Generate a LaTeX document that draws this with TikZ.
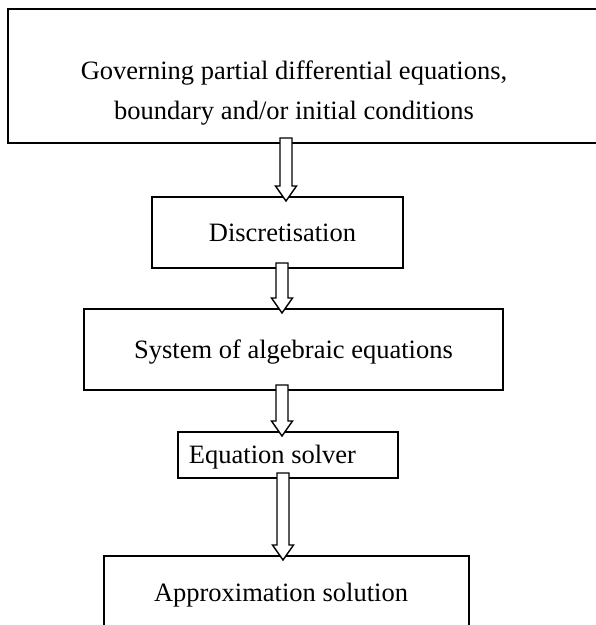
\documentclass[tikz,border=0pt]{standalone}
\usepackage{fontspec}
\setmainfont{Liberation Serif}
\usetikzlibrary{calc}
\tikzset{
  box/.style={draw=black, line width=2pt, inner sep=0pt, outer sep=0pt,
    font=\fontsize{26.5}{39}\selectfont, text height=17.5pt, text depth=0pt},
  boxtext/.style={inner sep=0pt, align=center, font=\fontsize{26.5}{39.5}\selectfont},
  barrow/.style={draw=black, fill=white, line width=1.4pt, line join=miter},
}
\newcommand\blockarrow[3]{%
  \draw[barrow] let \p1=(#1.south), \p2=(#2.north) in
   (#3pt-6pt,\y1+5pt) -- (#3pt+6pt,\y1+5pt) -- (#3pt+6pt,\y2+11pt)
   -- (#3pt+10.5pt,\y2+11pt) -- (#3pt,\y2-4pt) -- (#3pt-10.5pt,\y2+11pt)
   -- (#3pt-6pt,\y2+11pt) -- cycle;}
\begin{document}
\begin{tikzpicture}[x=1pt,y=1pt]
\useasboundingbox (0,0) rectangle (596,-625);
\node[box, minimum width=592pt, minimum height=134pt] (b1) at (304,-76) {};
\node[boxtext] (t1) at (294,-93) {Governing partial differential equations,\\boundary and/or initial conditions};
\node[box, minimum width=251pt, minimum height=71pt] (b2) at (277.5,-232.5) {\hspace*{10pt}Discretisation};
\node[box, minimum width=419pt, minimum height=81pt] (b3) at (293.5,-349.5) {System of algebraic equations};
\node[box, minimum width=220pt, minimum height=46pt] (b4) at (288,-455) {Equation solver\hspace*{31pt}};
\node[box, minimum width=365pt, minimum height=74pt] (b5) at (286.5,-593) {Approximation solution\hspace*{11pt}};
\blockarrow{b1}{b2}{286}
\blockarrow{b2}{b3}{282}
\blockarrow{b3}{b4}{282}
\blockarrow{b4}{b5}{283}
\end{tikzpicture}
\end{document}
